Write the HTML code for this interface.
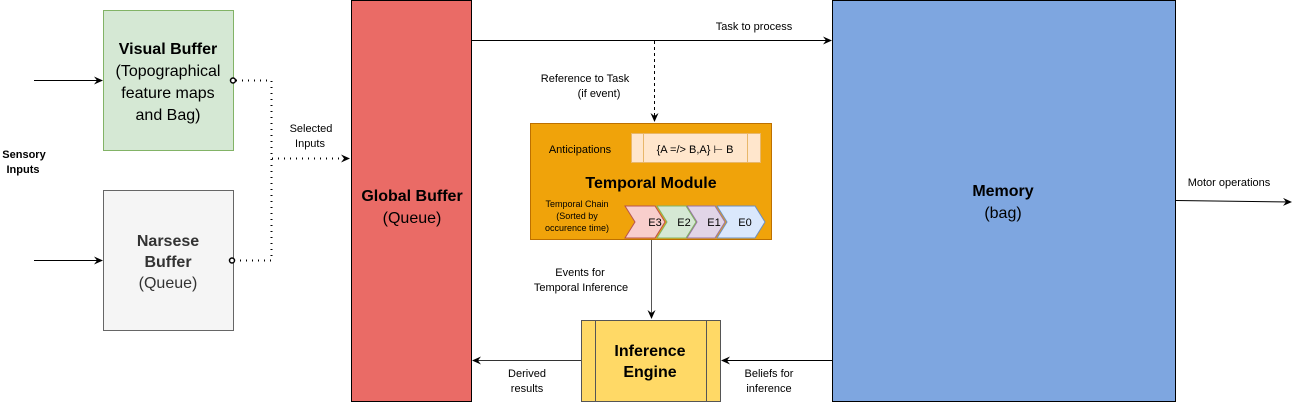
<!DOCTYPE html>
<html><head><meta charset="utf-8"><style>
html,body{margin:0;padding:0;background:#fff;}
svg{display:block;font-family:"Liberation Sans",Arial,sans-serif;}
</style></head><body>
<svg width="1301" height="402" viewBox="0 0 1301 402" xmlns="http://www.w3.org/2000/svg">
<defs>
<marker id="a" markerWidth="10" markerHeight="10" refX="8" refY="4" orient="auto" markerUnits="userSpaceOnUse"><path d="M0,0 L9,4 L0,8 L3,4 Z" fill="#000"/></marker>
<marker id="ag" markerWidth="10" markerHeight="10" refX="8" refY="4" orient="auto" markerUnits="userSpaceOnUse"><path d="M0,0 L9,4 L0,8 L3,4 Z" fill="#000"/></marker>
</defs>
<!-- boxes -->
<rect x="103.5" y="10.5" width="130" height="140" fill="#d5e8d4" stroke="#82b366"/>
<rect x="103.5" y="190.5" width="130" height="140" fill="#f5f5f5" stroke="#666"/>
<rect x="351.5" y="0.5" width="120" height="401" fill="#ea6b66" stroke="#000"/>
<rect x="832.5" y="0.5" width="343" height="401" fill="#7ea6e0" stroke="#000"/>
<rect x="530.5" y="123.5" width="241" height="116" fill="#f0a30a" stroke="#bd7000"/>
<rect x="631.5" y="133.5" width="129" height="29" fill="#ffe6cc" stroke="#e8b76a"/>
<line x1="643.5" y1="134" x2="643.5" y2="162" stroke="#e8b76a"/>
<line x1="747.5" y1="134" x2="747.5" y2="162" stroke="#e8b76a"/>
<!-- chevrons -->
<path d="M717,206 L755,206 L765,222 L755,238 L717,238 L727,222 Z" fill="#dae8fc" stroke="#6c8ebf"/>
<path d="M687,206 L715,206 L725,222 L715,238 L687,238 L697,222 Z" fill="#e1d5e7" stroke="#9673a6"/>
<path d="M657,206 L686,206 L696,222 L686,238 L657,238 L667,222 Z" fill="#d5e8d4" stroke="#82b366"/>
<path d="M625,206 L655,206 L665,222 L655,238 L625,238 L635,222 Z" fill="#f8cecc" stroke="#b85450"/>
<rect x="581.5" y="320.5" width="139" height="81" fill="#ffd966" stroke="#555"/>
<line x1="595.5" y1="321" x2="595.5" y2="401" stroke="#555"/>
<line x1="706.5" y1="321" x2="706.5" y2="401" stroke="#555"/>
<!-- connectors -->
<line x1="34" y1="80.5" x2="102" y2="80.5" stroke="#000" marker-end="url(#a)"/>
<line x1="34" y1="260.5" x2="102" y2="260.5" stroke="#000" marker-end="url(#a)"/>
<path d="M236,80.5 H271.5 V260.5 H236" fill="none" stroke="#000" stroke-width="2" stroke-dasharray="1 5"/>
<circle cx="233" cy="80.5" r="2.5" fill="#fff" stroke="#000" stroke-width="1.5"/>
<circle cx="232" cy="260.5" r="2.5" fill="#fff" stroke="#000" stroke-width="1.5"/>
<line x1="272" y1="158.5" x2="349" y2="158.5" stroke="#000" stroke-width="2" stroke-dasharray="1 5" marker-end="url(#a)"/>
<line x1="472" y1="40.5" x2="831" y2="40.5" stroke="#000" marker-end="url(#a)"/>
<line x1="654.5" y1="41" x2="654.5" y2="121" stroke="#000" stroke-dasharray="3 3" marker-end="url(#a)"/>
<line x1="651.5" y1="240" x2="651.5" y2="318" stroke="#555" marker-end="url(#ag)"/>
<line x1="581" y1="360.5" x2="473" y2="360.5" stroke="#333" marker-end="url(#a)"/>
<line x1="832" y1="360.5" x2="722" y2="360.5" stroke="#000" marker-end="url(#a)"/>
<line x1="1176" y1="200.5" x2="1291" y2="202" stroke="#000" marker-end="url(#a)"/>
<!-- text -->
<g text-anchor="middle" fill="#000">
<text x="168" y="54" font-size="16" font-weight="bold">Visual Buffer</text>
<text x="168" y="76" font-size="16">(Topographical</text>
<text x="168" y="98" font-size="16">feature maps</text>
<text x="168" y="120" font-size="16">and Bag)</text>
<text x="168" y="246" font-size="16" font-weight="bold" fill="#333">Narsese</text>
<text x="168" y="267" font-size="16" font-weight="bold" fill="#333">Buffer</text>
<text x="168" y="288" font-size="16" fill="#333">(Queue)</text>
<text x="24" y="158" font-size="11" font-weight="bold">Sensory</text>
<text x="23" y="173" font-size="11" font-weight="bold">Inputs</text>
<text x="311" y="132" font-size="11">Selected</text>
<text x="310" y="147" font-size="11">Inputs</text>
<text x="412" y="201" font-size="16" font-weight="bold">Global Buffer</text>
<text x="412" y="223" font-size="16">(Queue)</text>
<text x="754" y="30" font-size="11">Task to process</text>
<text x="585" y="82" font-size="11">Reference to Task</text>
<text x="599" y="97" font-size="11">(if event)</text>
<text x="580" y="153" font-size="11">Anticipations</text>
<text x="695" y="153" font-size="11">{A =/&gt; B,A} ⊢ B</text>
<text x="651" y="188" font-size="16" font-weight="bold">Temporal Module</text>
<text x="577" y="207" font-size="9">Temporal Chain</text>
<text x="577" y="219" font-size="9">(Sorted by</text>
<text x="577" y="231" font-size="9">occurence time)</text>
<text x="655" y="226" font-size="11">E3</text>
<text x="684" y="226" font-size="11">E2</text>
<text x="714" y="226" font-size="11">E1</text>
<text x="745" y="226" font-size="11">E0</text>
<text x="580" y="276" font-size="11">Events for</text>
<text x="581" y="291" font-size="11">Temporal Inference</text>
<text x="650" y="356" font-size="16" font-weight="bold">Inference</text>
<text x="650" y="377" font-size="16" font-weight="bold">Engine</text>
<text x="527" y="377" font-size="11">Derived</text>
<text x="527" y="392" font-size="11">results</text>
<text x="769" y="377" font-size="11">Beliefs for</text>
<text x="769" y="392" font-size="11">inference</text>
<text x="1003" y="196" font-size="16" font-weight="bold">Memory</text>
<text x="1003" y="218" font-size="16">(bag)</text>
<text x="1229" y="186" font-size="11">Motor operations</text>
</g>
</svg>
</body></html>
